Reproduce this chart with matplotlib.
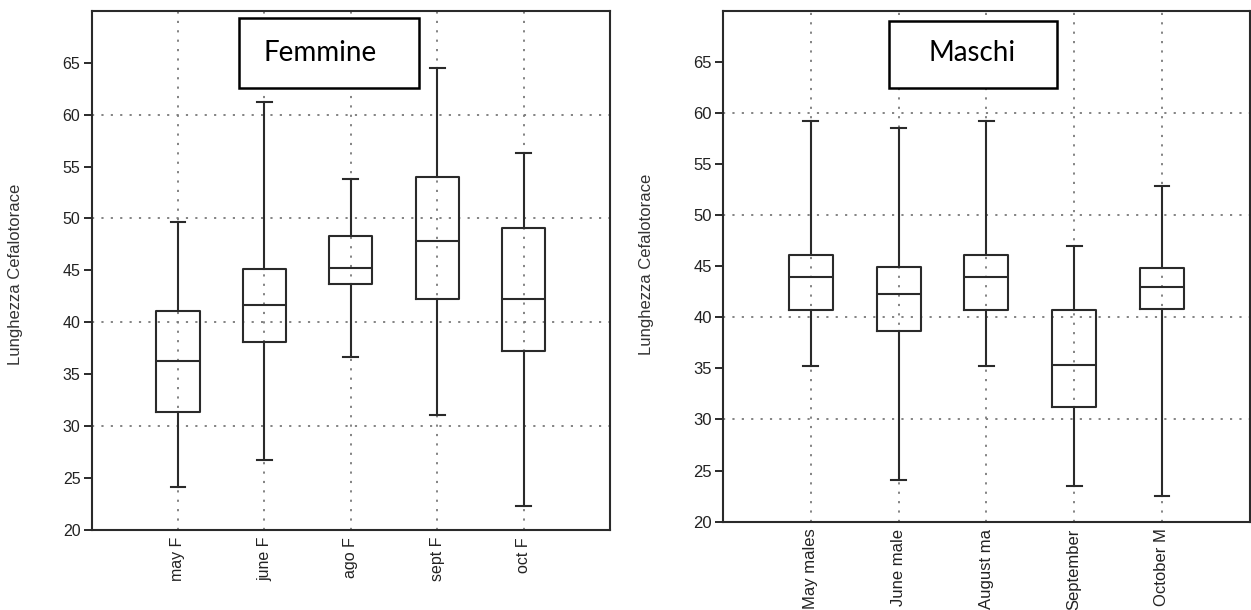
import matplotlib
matplotlib.use("Agg")
import matplotlib.pyplot as plt
from matplotlib.patches import Rectangle

# ---- data ----
fem_labels = ["may F", "june F", "ago F", "sept F", "oct F"]
fem_whislo = [24.1, 26.7, 36.7, 31.1, 22.3]
fem_q1 = [31.4, 38.1, 43.7, 42.2, 37.2]
fem_med = [36.3, 41.7, 45.2, 47.8, 42.2]
fem_q3 = [41.1, 45.1, 48.3, 54.0, 49.1]
fem_whishi = [49.7, 61.2, 53.8, 64.5, 56.3]

mal_labels = ["May males", "June male", "August ma", "September", "October M"]
mal_whislo = [35.2, 24.1, 35.2, 23.5, 22.5]
mal_q1 = [40.7, 38.7, 40.7, 31.2, 40.8]
mal_med = [43.9, 42.3, 43.9, 35.35, 43.0]
mal_q3 = [46.1, 44.95, 46.1, 40.67, 44.8]
mal_whishi = [59.25, 58.5, 59.25, 47.0, 52.8]

y_ticks = [20, 25, 30, 35, 40, 45, 50, 55, 60, 65]
y_grid = [30, 40, 50, 60]
ylabel = "Lunghezza Cefalotorace"
titles = ["Femmine", "Maschi"]

plt.rcParams['font.family'] = ['Liberation Sans', 'DejaVu Sans']

fig = plt.figure(figsize=(12.51, 6.10), dpi=100)
ax1 = fig.add_axes([0.0732, 0.1311, 0.4144, 0.8513])
ax2 = fig.add_axes([0.5780, 0.1448, 0.4210, 0.8377])

lc = '#2a2a2a'
gc = '#7a7a7a'


def draw(ax, labels, lo, q1, med, q3, hi, fs):
    stats = []
    for i in range(len(labels)):
        stats.append(dict(label=labels[i], whislo=lo[i], q1=q1[i], med=med[i],
                          q3=q3[i], whishi=hi[i], fliers=[]))
    pos = list(range(1, len(labels) + 1))
    # grid
    for g in y_grid:
        ax.axhline(g, color=gc, lw=1.3, ls=(0, (1.2, 4.0)), zorder=0)
    for p in pos:
        ax.axvline(p, color=gc, lw=1.3, ls=(0, (1.2, 4.0)), zorder=0)
    ax.bxp(stats, positions=pos, widths=0.5, capwidths=0.17, showfliers=False,
           boxprops=dict(color=lc, lw=1.5),
           medianprops=dict(color=lc, lw=1.5),
           whiskerprops=dict(color=lc, lw=1.5),
           capprops=dict(color=lc, lw=1.5))
    ax.set_xlim(0, 6)
    ax.set_ylim(20, 70)
    ax.set_yticks(y_ticks)
    ax.set_yticklabels([str(t) for t in y_ticks], fontsize=fs, color='#222')
    ax.set_xticks(pos)
    ax.set_xticklabels(labels, rotation=90, fontsize=fs, color='#222')
    ax.tick_params(axis='x', length=0, pad=5)
    ax.tick_params(axis='y', length=6, width=1.4, color=lc, direction='out', pad=2)
    for s in ax.spines.values():
        s.set_color(lc)
        s.set_linewidth(1.5)


draw(ax1, fem_labels, fem_whislo, fem_q1, fem_med, fem_q3, fem_whishi, 11.5)
draw(ax2, mal_labels, mal_whislo, mal_q1, mal_med, mal_q3, mal_whishi, 12)

# y labels
fig.text(16 / 1251, 1 - 274 / 610, ylabel, rotation=90, ha='center', va='center',
         fontsize=12, color='#333')
fig.text(647 / 1251, 1 - 264 / 610, ylabel, rotation=90, ha='center', va='center',
         fontsize=12, color='#333')

# title boxes
ax1.add_patch(Rectangle((0.284, 0.8506), 0.631 - 0.284, 0.9853 - 0.8506,
                        transform=ax1.transAxes, fill=True, facecolor='white',
                        edgecolor='black', lw=1.8, zorder=5))
ax1.text(0.4406, 0.918, titles[0], transform=ax1.transAxes, ha='center', va='center',
         fontsize=20, family=['Lato', 'DejaVu Sans'], zorder=6)
ax2.add_patch(Rectangle((0.315, 0.848), 0.6335 - 0.315, 0.980 - 0.848,
                        transform=ax2.transAxes, fill=True, facecolor='white',
                        edgecolor='black', lw=1.8, zorder=5))
ax2.text(0.473, 0.917, titles[1], transform=ax2.transAxes, ha='center', va='center',
         fontsize=20, family=['Lato', 'DejaVu Sans'], zorder=6)

fig.savefig("out.png", dpi=100)
